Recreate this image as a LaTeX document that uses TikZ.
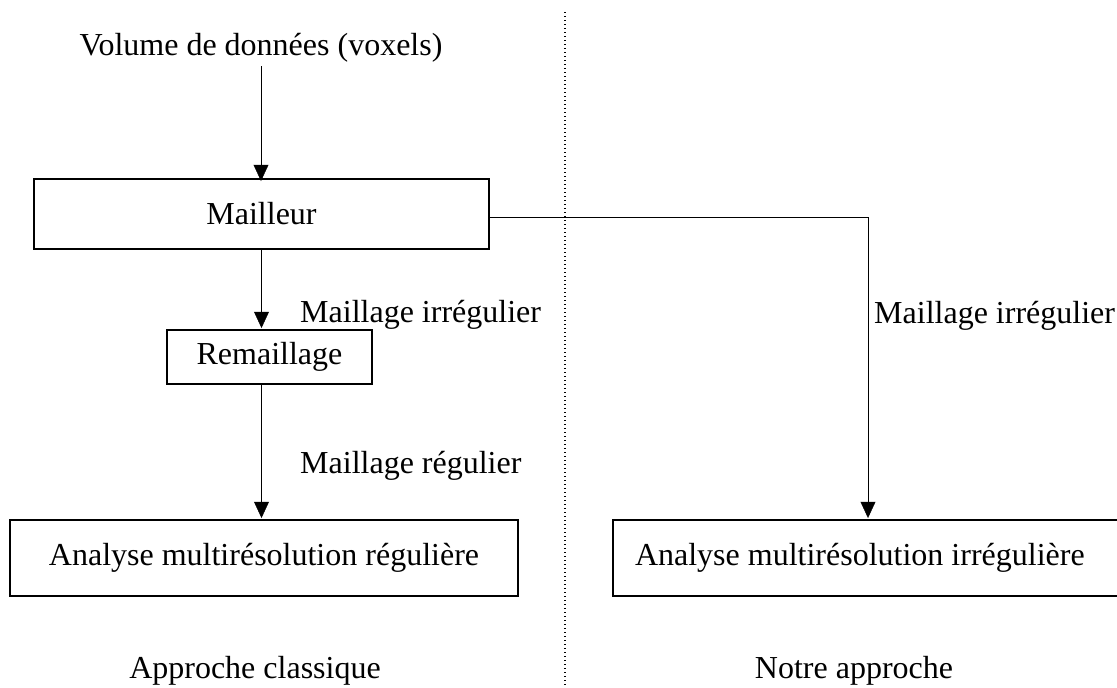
\documentclass[tikz,border=0pt]{standalone}
\usepackage{fontspec}
\setmainfont{Liberation Serif}
\usetikzlibrary{arrows.meta}
\begin{document}
\begin{tikzpicture}[x=1pt,y=-1pt,
  every node/.style={font=\fontsize{32}{38}\selectfont},
  box/.style={draw,line width=2pt,inner sep=0pt,outer sep=0pt},
  lbl/.style={inner sep=0pt,anchor=base west},
  title/.style={inner sep=0pt,anchor=base},
  >={Triangle[length=19pt,width=17pt]}]
\useasboundingbox (0,0) rectangle (1117,688);
\coordinate (top) at (565,12);
\coordinate (bot) at (565,688);
\node[title] (vol) at (261,55) {Volume de données (voxels)};
\node[box,minimum width=455pt,minimum height=70pt] (mailleur) at (261.5,214) {Mailleur};
\node[box,minimum width=205pt,minimum height=54pt] (remaillage) at (269.5,357) {Remaillage};
\node[box,minimum width=508pt,minimum height=76pt] (reg) at (264,558) {Analyse multirésolution régulière};
\node[box,minimum height=76pt,text width=466pt,inner xsep=22pt,align=flush left] (irr) at (868,558) {Analyse multirésolution irrégulière};
\node[lbl] (irrleft) at (300,322) {Maillage irrégulier};
\node[lbl] (regleft) at (300,473) {Maillage régulier};
\node[lbl] (irrright) at (874,323) {Maillage irrégulier};
\node[title] (classique) at (255,678) {Approche classique};
\node[title] (notre) at (854,678) {Notre approche};
\tikzset{line width=2pt}
\draw[->] ([yshift=-4pt]vol.south) -- ([yshift=-4pt]vol.south |- mailleur.north);
\draw[->] (mailleur.south) -- (mailleur.south |- remaillage.north);
\draw[->] (mailleur.south |- remaillage.south) -- (mailleur.south |- reg.north);
\draw[->] ([yshift=-3pt]mailleur.east) -| (irr.north);
\draw[line width=1.3pt,dash pattern=on 1.3pt off 2.7pt] (top) -- (bot);
\end{tikzpicture}
\end{document}
